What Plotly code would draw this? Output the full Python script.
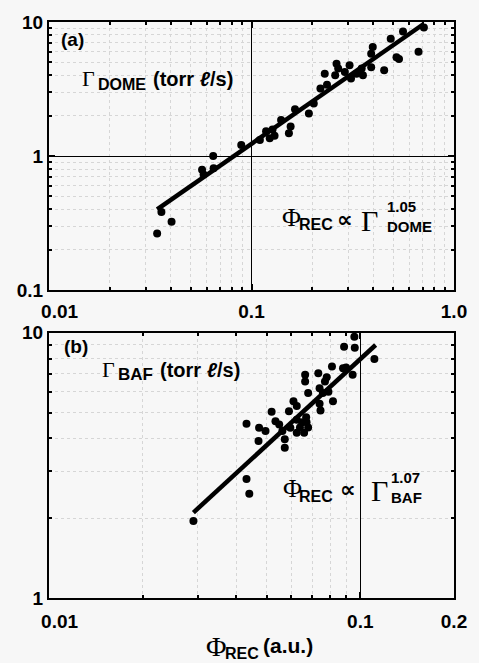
import math
import plotly.graph_objects as go
from plotly.subplots import make_subplots

# ---- data (a) ----
a_phi = [0.0342, 0.0359, 0.0403, 0.057, 0.058, 0.065, 0.0647, 0.089, 0.11, 0.118, 0.123, 0.127, 0.13,
         0.14, 0.153, 0.156, 0.164, 0.192, 0.203, 0.219, 0.236, 0.23, 0.259, 0.263, 0.268, 0.289,
         0.305, 0.31, 0.33, 0.355, 0.35, 0.39, 0.397, 0.39, 0.452, 0.487, 0.52, 0.535, 0.56, 0.668, 0.71]
a_gamma = [0.264, 0.383, 0.323, 0.79, 0.73, 0.81, 1.0, 1.21, 1.32, 1.53, 1.36, 1.58, 1.42,
           1.86, 1.48, 1.66, 2.23, 2.08, 2.47, 3.19, 3.41, 4.12, 4.0, 4.89, 4.5, 4.24,
           4.75, 3.79, 4.12, 4.0, 4.5, 4.6, 6.5, 5.8, 4.36, 7.5, 5.47, 5.3, 8.5, 6.0, 9.1]
a_fit_phi = [0.0342, 0.708]
a_fit_gamma = [0.40, 9.66]

# ---- data (b) ----
b_phi = [0.0291, 0.0431, 0.044, 0.0431, 0.0471, 0.0473, 0.0496, 0.0519, 0.0534, 0.0549, 0.0562,
         0.0572, 0.0572, 0.059, 0.0596, 0.061, 0.0625, 0.0625, 0.0625, 0.065, 0.064, 0.066, 0.0665,
         0.0665, 0.068, 0.067, 0.0672, 0.068, 0.0733, 0.074, 0.074, 0.0745, 0.0758, 0.077, 0.078,
         0.079, 0.0817, 0.0811, 0.088, 0.0887, 0.09, 0.0945, 0.0957, 0.096, 0.111]
b_gamma = [1.95, 2.81, 2.47, 4.54, 3.91, 4.39, 4.26, 5.04, 4.64, 4.51, 4.26,
           3.97, 3.69, 5.06, 4.39, 5.52, 5.3, 4.7, 4.2, 4.6, 4.4, 4.2, 6.95,
           6.55, 5.93, 4.8, 4.6, 4.4, 7.04, 6.18, 5.4, 5.1, 5.93, 6.55, 6.8,
           6.0, 5.52, 7.46, 7.35, 8.86, 7.4, 6.95, 9.66, 8.78, 7.97]
b_fit_phi = [0.0291, 0.112]
b_fit_gamma = [2.1, 9.0]

# ---- tick labels ----
a_xtick_vals = [0.01, 0.1, 1.0]
a_xtick_text = ["0.01", "0.1", "1.0"]
a_ytick_vals = [0.1, 1, 10]
a_ytick_text = ["0.1", "1", "10"]
b_xtick_vals = [0.01, 0.1, 0.2]
b_xtick_text = ["0.01", "0.1", "0.2"]
b_ytick_vals = [1, 10]
b_ytick_text = ["1", "10"]
minor_digits = [2, 3, 4, 5, 6, 7, 8, 9]

W, H = 479, 663
ML, MR, MT, MB = 49, 17, 18, 65
PW = W - ML - MR
PH = H - MT - MB

def px(x):
    return (x - ML) / PW

def py(y):
    return (H - MB - y) / PH

def minor_vals(decades):
    return [d * 10.0 ** e for e in decades for d in minor_digits]

def pad_first(labels):
    # first x label sits a little right of its tick, as in the original
    return ["\u2007\u2007" + labels[0]] + labels[1:]

BG = "#f7f7f7"
FONT = "Liberation Sans"

fig = make_subplots(rows=2, cols=1)

fig.add_trace(go.Scatter(x=a_phi, y=a_gamma, mode="markers",
                         marker=dict(color="black", size=8), showlegend=False), row=1, col=1)
fig.add_trace(go.Scatter(x=a_fit_phi, y=a_fit_gamma, mode="lines",
                         line=dict(color="black", width=4.5), showlegend=False), row=1, col=1)
fig.add_trace(go.Scatter(x=b_phi, y=b_gamma, mode="markers",
                         marker=dict(color="black", size=8), showlegend=False), row=2, col=1)
fig.add_trace(go.Scatter(x=b_fit_phi, y=b_fit_gamma, mode="lines",
                         line=dict(color="black", width=4.5), showlegend=False), row=2, col=1)

tickfont = dict(family=FONT, size=19, color="black", weight="bold")

def axis_common(mvals):
    return dict(type="log", showline=True, linecolor="black", linewidth=2, mirror="ticks",
                ticks="inside", ticklen=6, tickwidth=1.5, tickcolor="black",
                showgrid=True, gridcolor="black", gridwidth=1,
                zeroline=False, tickfont=tickfont,
                minor=dict(tickmode="array", tickvals=mvals, ticks="inside", ticklen=3,
                           tickcolor="black", showgrid=True,
                           gridcolor="#d6d6d6", griddash="dot", gridwidth=1))

a_dom = [py(288), 1.0]
b_dom = [0.0, py(331)]

fig.update_xaxes(**axis_common(minor_vals([-2, -1])), range=[-2, 0], tickvals=a_xtick_vals,
                 ticktext=pad_first(a_xtick_text), ticklabelstandoff=3, row=1, col=1)
fig.update_yaxes(**axis_common(minor_vals([-1, 0])), range=[-1, 1], tickvals=a_ytick_vals,
                 ticktext=a_ytick_text, domain=a_dom, row=1, col=1)
fig.update_xaxes(**axis_common(minor_vals([-2])), range=[-2, math.log10(0.2)],
                 tickvals=b_xtick_vals, ticktext=pad_first(b_xtick_text), ticklabelstandoff=5,
                 row=2, col=1)
fig.update_yaxes(**axis_common(minor_vals([0])), range=[0, 1], tickvals=b_ytick_vals,
                 ticktext=b_ytick_text, domain=b_dom, row=2, col=1)

anns = []
def ann(text, x, y, size=17, xanchor="left", yanchor="middle", family=FONT):
    anns.append(dict(text=text, x=px(x), y=py(y), xref="paper", yref="paper", showarrow=False,
                     xanchor=xanchor, yanchor=yanchor, align="left",
                     font=dict(family=family, size=size, color="black", weight="bold")))

def G(size):
    return '<span style="font-family:Liberation Serif;font-weight:normal;font-size:%dpx">Γ</span>' % size

def PHI(size):
    return '<span style="font-family:Liberation Serif;font-weight:normal;font-size:%dpx">Φ</span>' % size

# panel (a)
ann("(a)", 59, 36, size=19)
ann(G(22), 81, 75, size=22)
ann("DOME", 97, 81, size=16)
ann("(torr <i>ℓ</i>/s)", 153, 75, size=20)
ann(PHI(26), 285, 215, size=26)
ann("REC", 302, 222, size=16)
ann("∝", 341, 217, size=22, family="DejaVu Sans")
ann(G(30), 365, 218, size=30)
ann("1.05<br>DOME", 392, 214, size=15)

# panel (b)
ann("(b)", 62, 345, size=19)
ann(G(22), 101, 368, size=22)
ann("BAF", 117, 373, size=17)
ann("(torr <i>ℓ</i>/s)", 160, 368, size=20)
ann(PHI(26), 286, 488, size=26)
ann("REC", 302, 496, size=16)
ann("∝", 344, 489, size=22, family="DejaVu Sans")
ann(G(30), 375, 490, size=30)
ann("1.07<br>BAF", 396, 487, size=15)

# x title
ann(PHI(28), 207, 647, size=28)
ann("REC", 226, 654, size=16)
ann("(a.u.)", 265, 646, size=21)

fig.update_layout(width=W, height=H, margin=dict(l=ML, r=MR, t=MT, b=MB),
                  paper_bgcolor=BG, plot_bgcolor=BG, annotations=anns,
                  font=dict(family=FONT, color="black"))

fig.write_html("out.html", config={"displayModeBar": False},
               post_script="document.body.style.margin='0';document.body.style.overflow='hidden';")
